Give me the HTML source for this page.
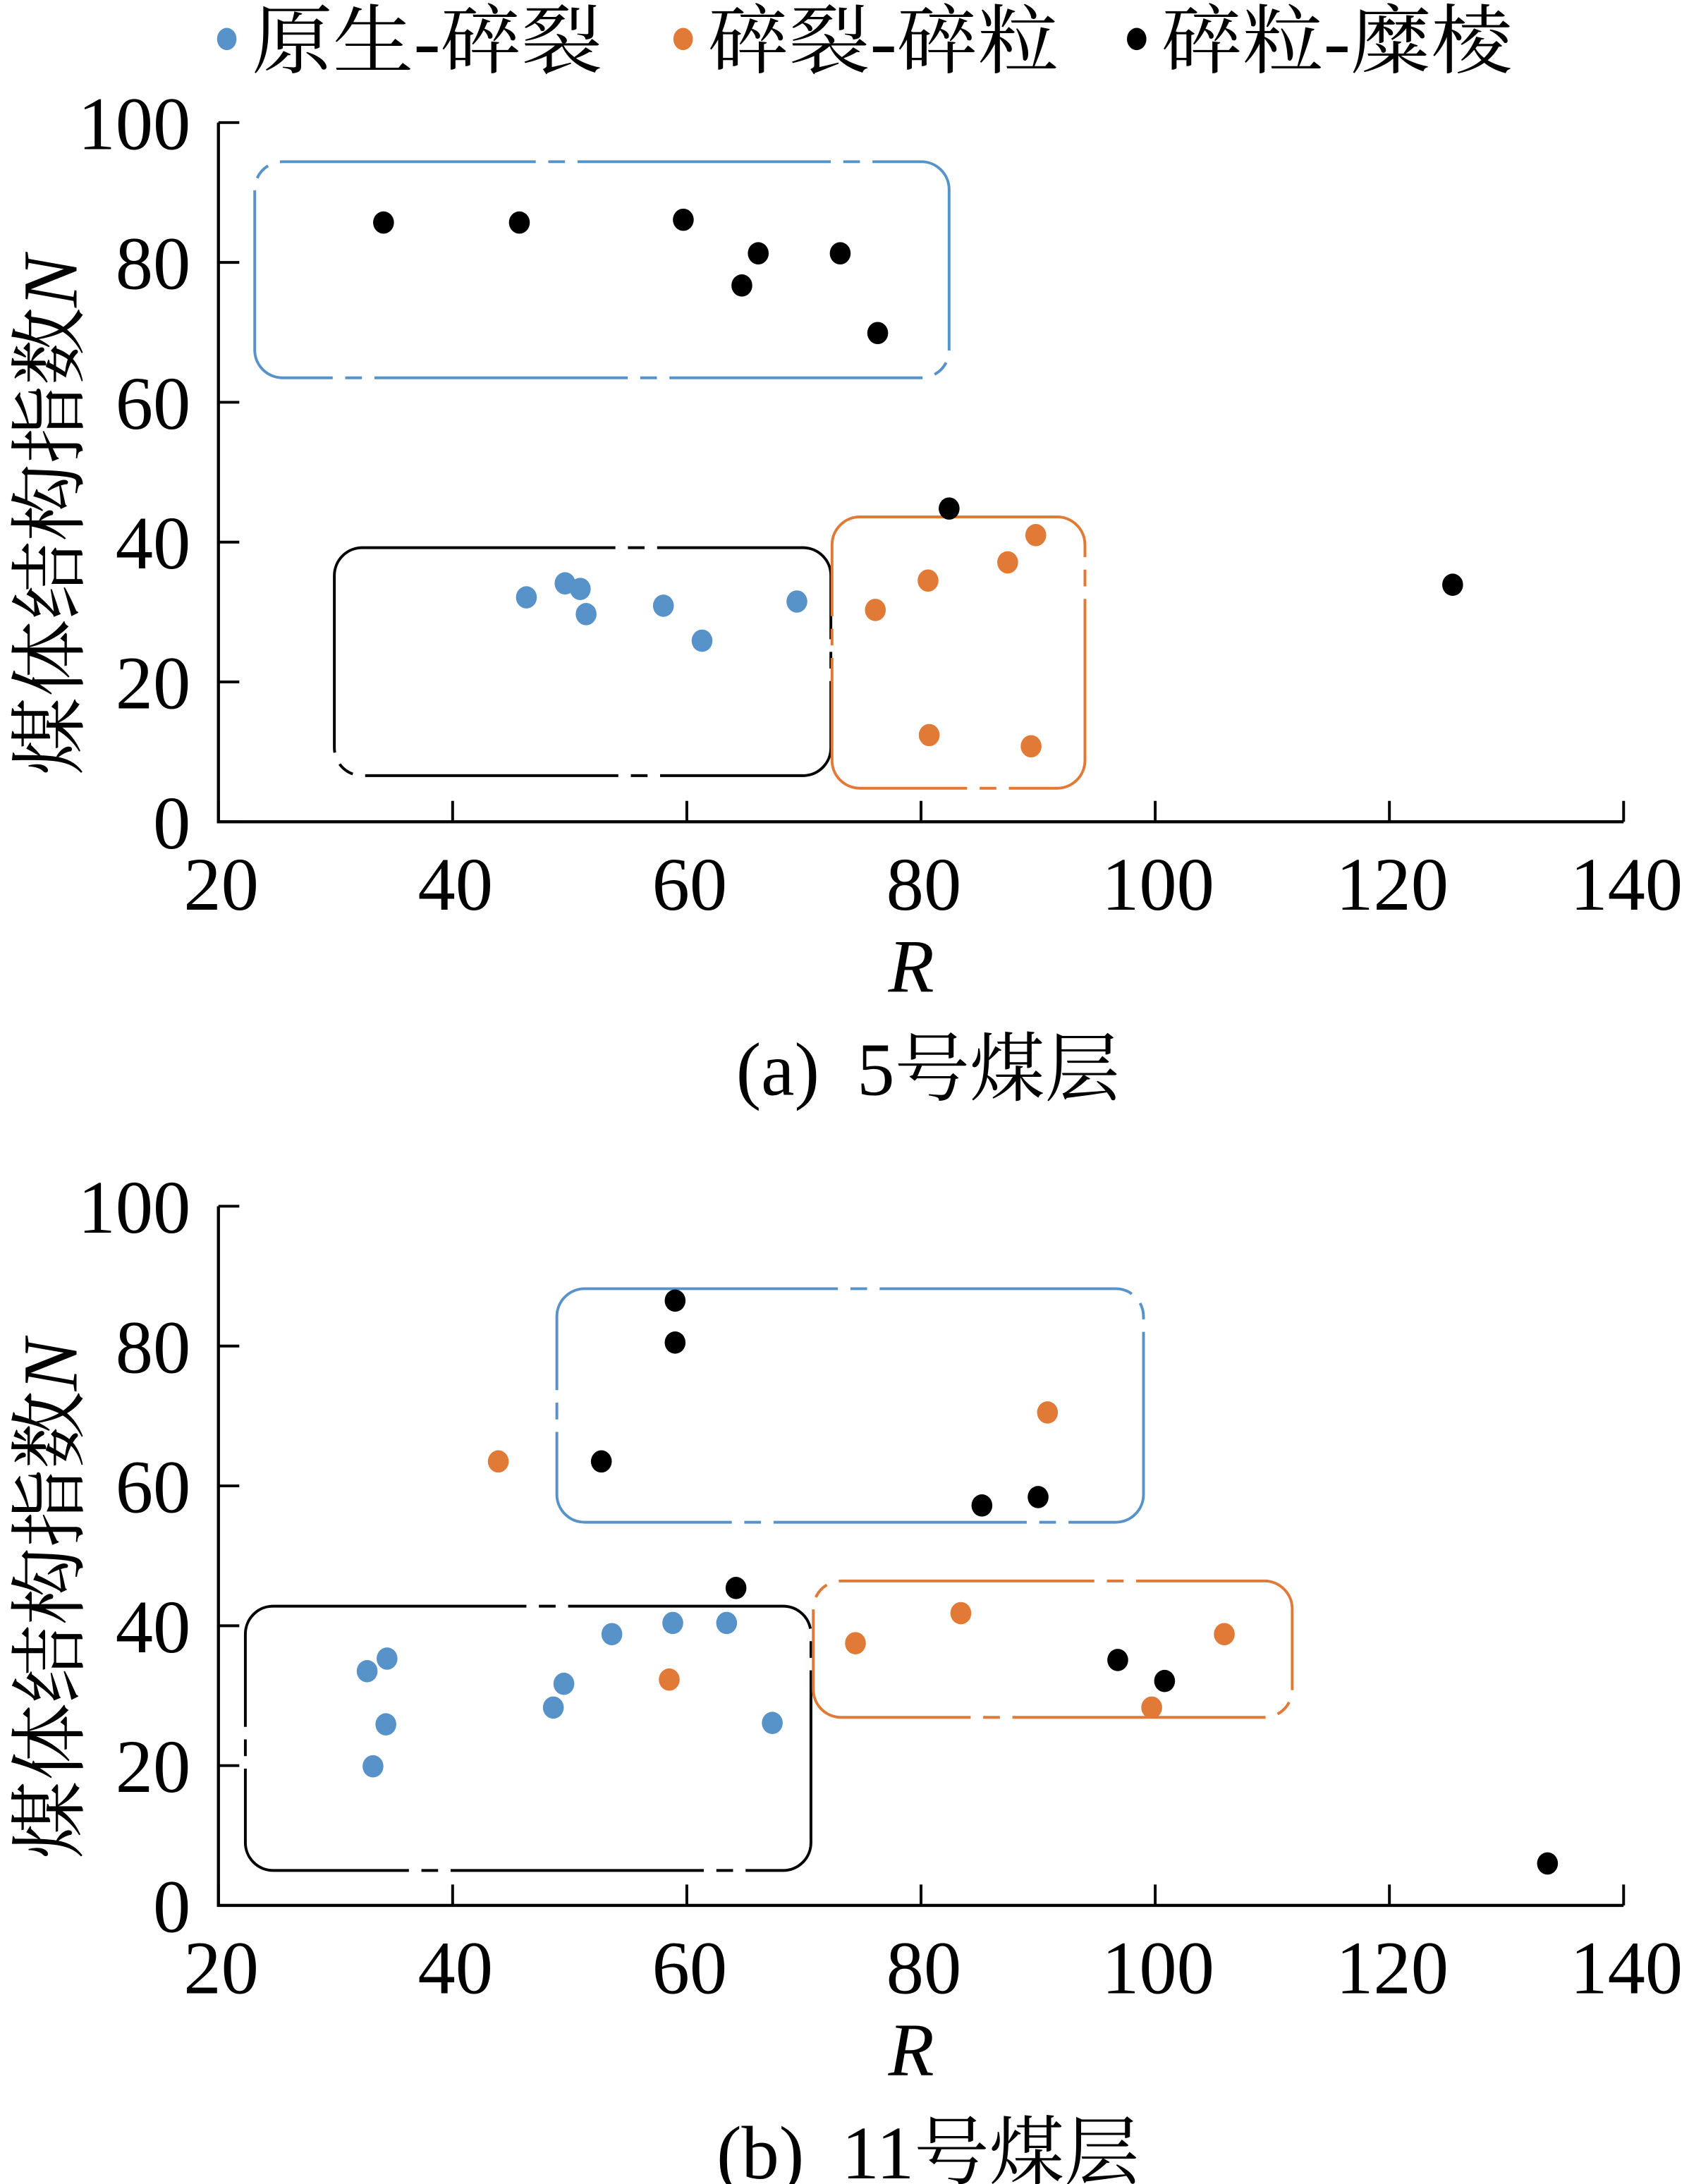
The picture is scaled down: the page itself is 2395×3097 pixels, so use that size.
<!DOCTYPE html>
<html><head><meta charset="utf-8"><style>
html,body{margin:0;padding:0;background:#fff;}
svg{display:block;}
text{font-family:"Liberation Serif","Noto Serif CJK SC",serif;fill:#000;}
</style></head><body>
<svg id="chart" width="2395" height="3097" viewBox="0 0 1214 1568" preserveAspectRatio="none" xmlns="http://www.w3.org/2000/svg"></svg>
<script>
// ---- data ----
const xTicks = [20, 40, 60, 80, 100, 120, 140];
const yTicks = [0, 20, 40, 60, 80, 100];
const seriesNames = ["原生-碎裂", "碎裂-碎粒", "碎粒-糜棱"];
// Panel a (5号煤层)
const aBlueX = [46.3, 49.6, 50.9, 51.4, 58.0, 61.3, 69.4];
const aBlueY = [32.1, 34.1, 33.3, 29.7, 30.9, 25.9, 31.5];
const aOrangeX = [76.1, 80.6, 87.4, 89.8, 80.7, 89.4];
const aOrangeY = [30.3, 34.5, 37.1, 41.0, 12.4, 10.8];
const aBlackX = [34.1, 45.7, 59.7, 66.1, 64.7, 73.1, 76.3, 82.4, 125.4];
const aBlackY = [85.7, 85.7, 86.1, 81.3, 76.7, 81.3, 69.9, 44.8, 33.9];
const aBoxBlue = [23.1, 82.4, 94.4, 63.5];
const aBoxBlack = [29.9, 72.3, 39.2, 6.6];
const aBoxOrange = [72.4, 94.0, 43.6, 4.8];
// Panel b (11号煤层)
const bBlueX = [32.7, 34.4, 34.3, 33.2, 48.6, 49.5, 53.6, 58.8, 63.4, 67.3];
const bBlueY = [33.5, 35.3, 25.9, 19.9, 28.3, 31.7, 38.8, 40.4, 40.4, 26.1];
const bOrangeX = [43.9, 90.8, 58.5, 74.4, 83.4, 105.9, 99.7];
const bOrangeY = [63.5, 70.5, 32.3, 37.5, 41.8, 38.8, 28.3];
const bBlackX = [59.0, 59.0, 52.7, 85.2, 90.0, 64.2, 96.8, 100.8, 133.5];
const bBlackY = [86.5, 80.5, 63.5, 57.2, 58.4, 45.4, 35.1, 32.1, 6.0];
const bBoxBlue = [48.9, 99.0, 88.2, 54.8];
const bBoxBlack = [22.3, 70.6, 42.8, 5.0];
const bBoxOrange = [70.8, 111.7, 46.4, 26.9];

const BLUE = "#5793c9", ORANGE = "#e07a36", BLACK = "#000";
const NS = "http://www.w3.org/2000/svg";
const svg = document.getElementById("chart");
function mk(tag, attrs, parent) {
  const e = document.createElementNS(NS, tag);
  for (const k in attrs) e.setAttribute(k, attrs[k]);
  (parent || svg).appendChild(e);
  return e;
}

const legX = [163, 491, 817];
const legC = [BLUE, ORANGE, BLACK];
for (let i = 0; i < 3; i++) {
  const g = mk("g", {});
  
  
  mk("ellipse", {cx: legX[i], cy: 28, rx: 7, ry: 8, fill: legC[i]}, g);
  const t = mk("text", {x: legX[i] + 18, y: 48, "font-size": 54, textLength: 252, lengthAdjust: "spacingAndGlyphs"}, g);
  t.textContent = seriesNames[i];
}

function panel(id, y0px, caption, blue, orange, black, boxes) {
  const X0 = 157, X1 = 1167, Y100 = y0px - 502;
  const sx = v => X0 + (v - 20) * (X1 - X0) / 120;
  const sy = v => y0px - v * (y0px - Y100) / 100;
  const g = mk("g", {});
  
  
  const ax = mk("path", {d: `M${X0},${sy(100)} V${y0px} H${X1}`, fill: "none", stroke: "#000", "stroke-width": 2.2}, g);
  
  
  xTicks.forEach(v => {
    mk("line", {x1: sx(v), x2: sx(v), y1: y0px, y2: y0px - 15, stroke: "#000", "stroke-width": 2}, g);
    const t = mk("text", {x: sx(v) + 2, y: y0px + 63, "font-size": 54, "text-anchor": "middle"}, g);
    
    
    t.textContent = v;
  });
  yTicks.forEach(v => {
    mk("line", {x1: X0, x2: X0 + 15, y1: sy(v), y2: sy(v), stroke: "#000", "stroke-width": 2}, g);
    const t = mk("text", {x: X0 - 20, y: sy(v) + 19, "font-size": 54, "text-anchor": "end"}, g);
    
    
    t.textContent = v;
  });
  const yt = mk("text", {transform: `translate(55,${y0px - 220}) rotate(-90)`, "font-size": 56, "text-anchor": "middle"}, g);
  
  
  yt.innerHTML = '煤体结构指数<tspan font-style="italic">N</tspan>';
  const xt = mk("text", {x: 655, y: y0px + 122, "font-size": 54, "font-style": "italic", "text-anchor": "middle"}, g);
  
  
  xt.textContent = "R";
  const cap = mk("text", {x: 667, y: y0px + 196, "font-size": 54, "text-anchor": "middle"}, g);
  
  
  cap.textContent = caption;
  boxes.forEach(([b, col]) => {
    const r = mk("rect", {x: sx(b[0]), y: sy(b[2]), width: sx(b[1]) - sx(b[0]), height: sy(b[3]) - sy(b[2]), rx: 20, ry: 20, fill: "none", stroke: col, "stroke-width": 2, "stroke-dasharray": "182 9 12 9"}, g);
    
    
  });
  [[blue, BLUE, 'blue'], [orange, ORANGE, 'orange'], [black, BLACK, 'black']].forEach(([s, col, nm]) => {
    s[0].forEach((xv, i) => {
      const c = mk("ellipse", {cx: sx(xv), cy: sy(s[1][i]), rx: 7.5, ry: 8, fill: col}, g);
      
      
    });
  });
}

panel('a', 590, "(a)\u00a0\u00a05号煤层", [aBlueX, aBlueY], [aOrangeX, aOrangeY], [aBlackX, aBlackY],
  [[aBoxBlue, BLUE], [aBoxBlack, BLACK], [aBoxOrange, ORANGE]]);
panel('b', 1368, "(b)\u00a0\u00a011号煤层", [bBlueX, bBlueY], [bOrangeX, bOrangeY], [bBlackX, bBlackY],
  [[bBoxBlue, BLUE], [bBoxBlack, BLACK], [bBoxOrange, ORANGE]]);
</script>
</body></html>
